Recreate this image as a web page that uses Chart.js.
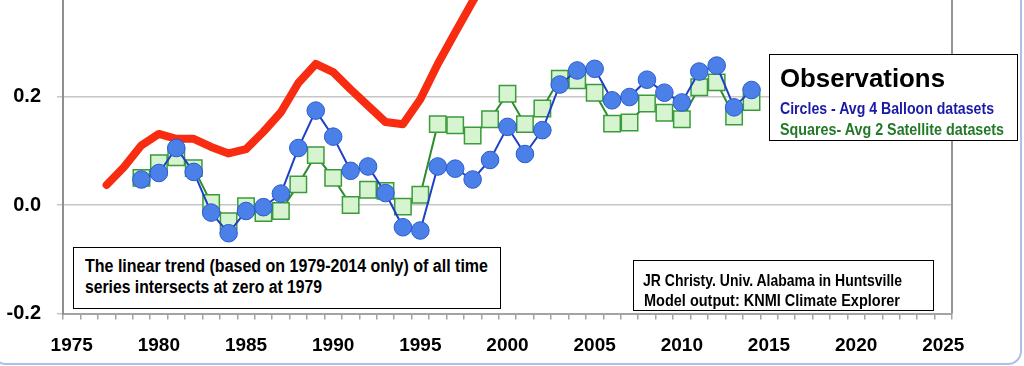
<!DOCTYPE html>
<html><head><meta charset="utf-8">
<script src="https://cdn.jsdelivr.net/npm/chart.js@4.4.1/dist/chart.umd.min.js"></script>
<style>
html,body{margin:0;padding:0;width:1024px;height:366px;overflow:hidden;background:#fff;}
#wrap{position:absolute;left:0;top:-40px;width:1024px;height:406px;}
#frame{position:absolute;left:-8px;top:-20px;width:1030px;height:385px;box-sizing:border-box;border:2px solid #a9c1e6;border-radius:14px;pointer-events:none;}
.box{position:absolute;box-sizing:border-box;border:1.5px solid #000;background:#fff;}
.ln{position:absolute;white-space:nowrap;font-family:'Liberation Sans Narrow','Liberation Sans',Arial,sans-serif;font-weight:bold;line-height:1;transform-origin:0 0;color:#000;}
</style></head><body>
<div id="wrap"><canvas id="c"></canvas></div>
<div id="frame"></div>
<div class="box" style="left:73px;top:247px;width:428px;height:62px"></div>
<div class="box" style="left:633px;top:260px;width:301px;height:51px"></div>
<div class="box" style="left:769px;top:54px;width:249px;height:87px"></div>
<script>
// ---- data ----
const axisYears = ['1975','1976','1977','1978','1979','1980','1981','1982','1983','1984','1985','1986','1987','1988','1989','1990','1991','1992','1993','1994','1995','1996','1997','1998','1999','2000','2001','2002','2003','2004','2005','2006','2007','2008','2009','2010','2011','2012','2013','2014','2015','2016','2017','2018','2019','2020','2021','2022','2023','2024','2025'];
const labeledYears = ['1975','1980','1985','1990','1995','2000','2005','2010','2015','2020','2025'];
const yTicks = [-0.2, 0.0, 0.2, 0.4];

const obsYears = [1979,1980,1981,1982,1983,1984,1985,1986,1987,1988,1989,1990,1991,1992,1993,1994,1995,1996,1997,1998,1999,2000,2001,2002,2003,2004,2005,2006,2007,2008,2009,2010,2011,2012,2013,2014];
const balloon = [0.047,0.059,0.105,0.061,-0.014,-0.052,-0.011,-0.004,0.021,0.105,0.174,0.126,0.063,0.071,0.022,-0.041,-0.047,0.071,0.067,0.047,0.083,0.144,0.094,0.138,0.222,0.248,0.251,0.193,0.199,0.231,0.207,0.189,0.246,0.257,0.180,0.212];
const satellite = [0.050,0.077,0.088,0.068,0.004,-0.030,-0.002,-0.015,-0.011,0.038,0.092,0.050,0.000,0.028,0.026,-0.003,0.019,0.149,0.147,0.128,0.158,0.205,0.149,0.178,0.233,0.230,0.207,0.150,0.152,0.187,0.170,0.158,0.217,0.226,0.163,0.190];

const modelYears = [1977,1978,1979,1980,1981,1982,1983,1984,1985,1986,1987,1988,1989,1990,1991,1992,1993,1994,1995,1996,1997,1998,1999];
const model = [0.037,0.070,0.110,0.131,0.122,0.122,0.107,0.095,0.103,0.135,0.171,0.225,0.260,0.245,0.213,0.183,0.153,0.149,0.195,0.260,0.318,0.375,0.430];

const textLines = [
  {t:'The linear trend (based on 1979-2014 only) of all time', x:85, b:272.5, s:17.5, w:403, c:'#000'},
  {t:'series intersects at zero at 1979', x:85, b:294, s:17.5, w:237, c:'#000'},
  {t:'JR Christy. Univ. Alabama in Huntsville', x:643, b:285.5, s:16.5, w:259, c:'#000'},
  {t:'Model output: KNMI Climate Explorer', x:644, b:306, s:16.5, w:256, c:'#000'},
  {t:'Observations', x:780, b:87, s:26.5, w:165, c:'#000'},
  {t:'Circles - Avg 4 Balloon datasets', x:780, b:114.8, s:17, w:214, c:'#1a1aa8'},
  {t:'Squares- Avg 2 Satellite datasets', x:780, b:135.5, s:17, w:224, c:'#23782a'}
];

// ---- text ----
textLines.forEach(L => {
  const d = document.createElement('div');
  d.className = 'ln';
  d.textContent = L.t;
  d.style.fontSize = L.s + 'px';
  d.style.color = L.c;
  d.style.left = L.x + 'px';
  d.style.top = (L.b - 0.8465 * L.s) + 'px';
  document.body.appendChild(d);
  const mw = d.getBoundingClientRect().width;
  d.style.transform = 'scaleX(' + (L.w / mw) + ')';
});

// ---- chart ----
const FONT = "'Liberation Sans', Arial, sans-serif";
const rightBorder = {
  id: 'rightBorder',
  afterDraw(chart) {
    const a = chart.chartArea, ctx = chart.ctx;
    ctx.save();
    ctx.strokeStyle = '#959595';
    ctx.lineWidth = 2;
    ctx.beginPath();
    ctx.moveTo(a.right, a.top);
    ctx.lineTo(a.right, a.bottom);
    ctx.stroke();
    ctx.restore();
  }
};

new Chart(document.getElementById('c'), {
  type: 'line',
  data: {
    labels: axisYears,
    datasets: [
      {
        label: 'Circles - Avg 4 Balloon datasets',
        data: obsYears.map((yr, i) => ({x: String(yr), y: balloon[i]})),
        borderColor: '#1f3fc4', borderWidth: 2,
        pointRadius: 8.8, pointBackgroundColor: '#4a80e8',
        pointBorderColor: '#2b5ad0', pointBorderWidth: 1,
        tension: 0, order: 0
      },
      {
        label: 'Squares- Avg 2 Satellite datasets',
        data: obsYears.map((yr, i) => ({x: String(yr), y: satellite[i]})),
        borderColor: '#2d8c2d', borderWidth: 2,
        pointStyle: 'rect', pointRadius: 11.6,
        pointBackgroundColor: '#d6f4cf', pointBorderColor: '#3b9b3b', pointBorderWidth: 1.5,
        tension: 0, order: 1
      },
      {
        label: 'Model',
        data: modelYears.map((yr, i) => ({x: String(yr), y: model[i]})),
        borderColor: '#f72c10', borderWidth: 8,
        borderJoinStyle: 'round', borderCapStyle: 'round',
        pointRadius: 0, tension: 0, order: 2
      }
    ]
  },
  options: {
    responsive: true, maintainAspectRatio: false, animation: false,
    layout: {padding: {top: 25, right: 72, left: 0, bottom: 0}},
    plugins: {legend: {display: false}, tooltip: {enabled: false}},
    scales: {
      x: {
        type: 'category', offset: true,
        grid: {offset: true, drawOnChartArea: false, drawTicks: true, tickLength: 6, color: '#a3a3a3', lineWidth: 1.5},
        border: {color: '#a3a3a3', width: 2},
        ticks: {
          autoSkip: false, maxRotation: 0, minRotation: 0, padding: 15, color: '#000',
          font: {family: FONT, size: 19, weight: 'bold'},
          callback: function (v) { const l = this.getLabelForValue(v); return labeledYears.includes(l) ? l : ''; }
        },
        afterFit: s => { s.height = 52.5; }
      },
      y: {
        min: -0.2, max: 0.4,
        afterBuildTicks: s => { s.ticks = yTicks.map(v => ({value: v})); },
        grid: {color: '#c6c6c6', lineWidth: 1.5, tickLength: 6},
        border: {color: '#8f8f8f', width: 2},
        ticks: {padding: 16, color: '#000', font: {family: FONT, size: 20, weight: 'bold'}, callback: v => v.toFixed(1)},
        afterFit: s => { s.width = 63; }
      }
    }
  },
  plugins: [rightBorder]
});
</script>
</body></html>
